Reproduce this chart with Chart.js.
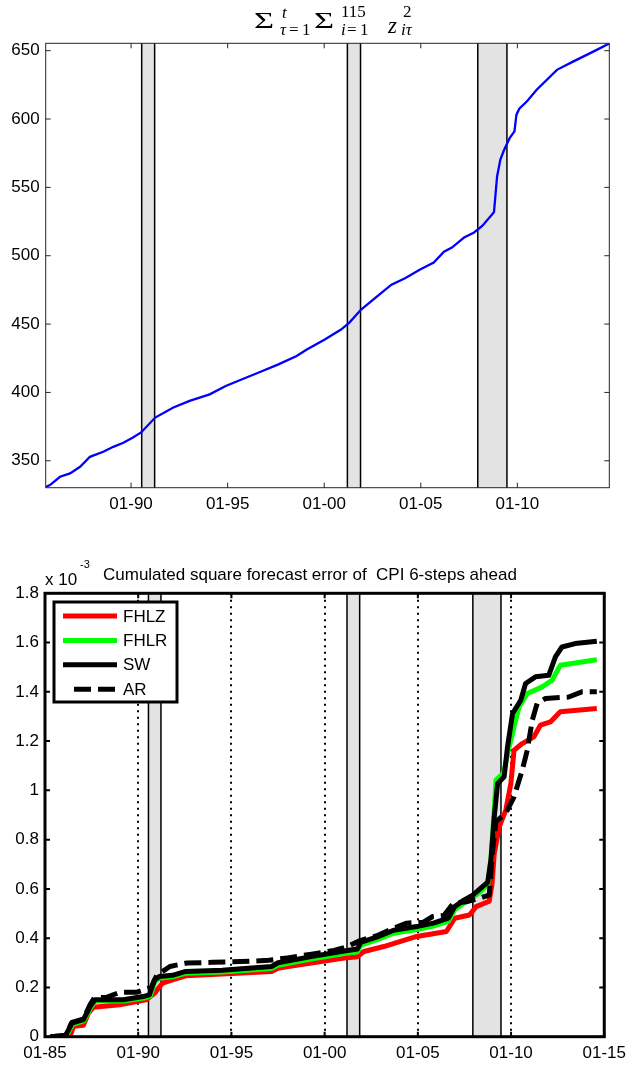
<!DOCTYPE html>
<html>
<head>
<meta charset="utf-8">
<script src="https://cdn.jsdelivr.net/npm/chart.js@4.4.1/dist/chart.umd.min.js"></script>
<style>
  body { margin: 0; background: #fff; }
  canvas { position: absolute; left: 0; }
  #topChart { top: 0; }
  #bottomChart { top: 530px; }
</style>
</head>
<body>
<canvas id="topChart" width="632" height="530"></canvas>
<canvas id="bottomChart" width="632" height="540"></canvas>
<script>
// recessions (decimal years)
var recStart = [1990.55, 2001.2, 2007.95];
var recEnd = [1991.22, 2001.88, 2009.46];

// top panel: cumulated sum of squared idiosyncratic components
var topTicksX = [1990, 1995, 2000, 2005, 2010];
var topTicksY = [350, 400, 450, 500, 550, 600, 650];
var zsq = [
  [1985.58, 330.8], [1985.8, 332.2], [1986.32, 338.3], [1986.84, 340.8], [1987.36, 345.6],
  [1987.87, 352.9], [1988.56, 356.6], [1989.08, 360.2], [1989.6, 363.2], [1990.1, 367],
  [1990.52, 370.7], [1991.25, 381.6], [1992.19, 389], [1993.03, 393.8], [1994.07, 398.6],
  [1994.9, 404.7], [1995.75, 409.6], [1996.58, 414.4], [1997.63, 420.5], [1998.57, 426.6],
  [1999.1, 431.4], [2000.03, 438.7], [2000.87, 446], [2001.29, 450.9], [2001.91, 460.6],
  [2002.85, 471.6], [2003.48, 478.8], [2004.21, 483.7], [2004.94, 489.8], [2005.67, 495],
  [2006.2, 503], [2006.61, 506], [2007.24, 513.3], [2007.76, 517], [2008.18, 521.8],
  [2008.7, 530.3], [2008.79, 532], [2008.87, 545], [2008.95, 558], [2009.12, 570.4],
  [2009.3, 577], [2009.6, 586], [2009.85, 591], [2009.95, 603], [2010.1, 607.5],
  [2010.5, 613], [2011.0, 621.4], [2012.05, 636], [2012.88, 642], [2013.93, 649.3],
  [2014.76, 655.3]
];

// bottom panel: cumulated square forecast error (x 10^-3)
var botTicksX = [1985, 1990, 1995, 2000, 2005, 2010, 2015];
var botTicksY = [0, 0.2, 0.4, 0.6, 0.8, 1, 1.2, 1.4, 1.6, 1.8];
var fhlz = [
  [1985.3, 0], [1986.35, 0.003], [1986.53, 0.042], [1987.06, 0.046], [1987.33, 0.096],
  [1987.6, 0.12], [1989.0, 0.13], [1990.43, 0.15], [1990.87, 0.176], [1991.31, 0.218],
  [1991.84, 0.231], [1992.55, 0.247], [1994.5, 0.255], [1997.15, 0.265], [1997.5, 0.278],
  [1998.04, 0.285], [2001.05, 0.319], [2001.76, 0.325], [2002.11, 0.346], [2003.17, 0.366],
  [2004.94, 0.407], [2006.53, 0.427], [2006.98, 0.481], [2007.77, 0.494], [2008.13, 0.528],
  [2008.83, 0.55], [2008.98, 0.62], [2009.1, 0.745], [2009.37, 0.853], [2009.72, 0.92],
  [2009.99, 1.028], [2010.16, 1.163], [2010.6, 1.19], [2011.22, 1.217], [2011.58, 1.265],
  [2012.11, 1.278], [2012.64, 1.319], [2014.6, 1.332]
];
var fhlr = [
  [1985.3, 0], [1986.15, 0.003], [1986.3, 0.025], [1986.48, 0.05], [1987.08, 0.064],
  [1987.45, 0.118], [1987.7, 0.145], [1989.2, 0.145], [1990.3, 0.157], [1990.65, 0.165],
  [1990.9, 0.225], [1991.15, 0.238], [1991.84, 0.243], [1992.55, 0.258], [1994.5, 0.263],
  [1997.15, 0.277], [1997.5, 0.29], [1999.28, 0.315], [2001.05, 0.338], [2001.76, 0.345],
  [2001.95, 0.372], [2002.82, 0.394], [2003.7, 0.42], [2004.94, 0.435], [2005.83, 0.449],
  [2006.63, 0.468], [2006.98, 0.515], [2007.42, 0.54], [2007.95, 0.565], [2008.3, 0.585],
  [2008.75, 0.62], [2008.92, 0.72], [2009.1, 0.92], [2009.19, 1.042], [2009.6, 1.07],
  [2009.85, 1.16], [2010.16, 1.258], [2010.43, 1.339], [2010.87, 1.393], [2011.67, 1.42],
  [2012.2, 1.447], [2012.64, 1.508], [2014.6, 1.53]
];
var sw = [
  [1985.3, 0], [1986.1, 0.005], [1986.26, 0.028], [1986.44, 0.055], [1987.06, 0.069],
  [1987.42, 0.123], [1987.68, 0.15], [1989.2, 0.15], [1990.25, 0.163], [1990.6, 0.17],
  [1990.87, 0.231], [1991.13, 0.244], [1991.84, 0.249], [1992.55, 0.265], [1994.5, 0.27],
  [1997.15, 0.285], [1997.5, 0.3], [1999.28, 0.325], [2001.05, 0.348], [2001.76, 0.356],
  [2001.93, 0.383], [2002.82, 0.405], [2003.7, 0.432], [2004.94, 0.447], [2005.83, 0.461],
  [2006.63, 0.481], [2006.98, 0.528], [2007.42, 0.552], [2007.95, 0.575], [2008.3, 0.598],
  [2008.75, 0.628], [2008.92, 0.717], [2009.1, 0.893], [2009.28, 1.028], [2009.63, 1.055],
  [2009.81, 1.177], [2010.08, 1.312], [2010.52, 1.366], [2010.78, 1.434], [2011.31, 1.461],
  [2012.02, 1.467], [2012.38, 1.542], [2012.73, 1.582], [2013.44, 1.596], [2014.6, 1.605]
];
var ar = [
  [1985.3, 0], [1986.1, 0.005], [1986.26, 0.03], [1986.44, 0.058], [1987.06, 0.072],
  [1987.42, 0.13], [1987.65, 0.158], [1988.3, 0.16], [1989.0, 0.18], [1989.9, 0.18],
  [1990.3, 0.19], [1990.7, 0.2], [1991.0, 0.25], [1991.7, 0.285], [1992.6, 0.299],
  [1994.0, 0.302], [1995.5, 0.305], [1997.0, 0.31], [1998.0, 0.32], [1999.3, 0.335],
  [2000.5, 0.35], [2001.2, 0.365], [2001.9, 0.39], [2002.8, 0.41], [2003.7, 0.44],
  [2004.4, 0.461], [2005.3, 0.465], [2005.8, 0.488], [2006.4, 0.492], [2006.9, 0.542],
  [2007.6, 0.548], [2008.3, 0.562], [2008.83, 0.575], [2009.0, 0.75], [2009.19, 0.873],
  [2009.72, 0.907], [2010.16, 0.974], [2010.6, 1.082], [2010.87, 1.163], [2011.14, 1.285],
  [2011.4, 1.353], [2011.85, 1.373], [2013.09, 1.379], [2013.8, 1.4], [2014.6, 1.4]
];

Chart.defaults.font.family = "'Liberation Sans', Arial, sans-serif";
Chart.defaults.font.size = 17;
Chart.defaults.color = "#000";

function toXY(arr) {
  return arr.map(function (p) { return { x: p[0], y: p[1] }; });
}
function yearLabel(v) {
  return "01-" + String(v).slice(2);
}

// grey recession bands with black edges
var recessionBands = {
  id: "recessionBands",
  beforeDatasetsDraw: function (chart) {
    var ctx = chart.ctx, a = chart.chartArea, x = chart.scales.x;
    ctx.save();
    recStart.forEach(function (s, i) {
      var x1 = x.getPixelForValue(s), x2 = x.getPixelForValue(recEnd[i]);
      ctx.fillStyle = "#e3e3e3";
      ctx.fillRect(x1, a.top, x2 - x1, a.bottom - a.top);
      ctx.strokeStyle = "#000";
      ctx.lineWidth = 1.5;
      ctx.beginPath();
      ctx.moveTo(x1, a.top); ctx.lineTo(x1, a.bottom);
      ctx.moveTo(x2, a.top); ctx.lineTo(x2, a.bottom);
      ctx.stroke();
    });
    ctx.restore();
  }
};

// matlab style box with inward ticks
var boxTicks = {
  id: "boxTicks",
  afterDraw: function (chart, args, o) {
    var ctx = chart.ctx, a = chart.chartArea, x = chart.scales.x, y = chart.scales.y;
    ctx.save();
    ctx.strokeStyle = o.color;
    ctx.lineWidth = o.tickWidth;
    ctx.beginPath();
    x.ticks.forEach(function (t) {
      var px = x.getPixelForValue(t.value);
      ctx.moveTo(px, a.bottom); ctx.lineTo(px, a.bottom - o.len);
      ctx.moveTo(px, a.top); ctx.lineTo(px, a.top + o.len);
    });
    y.ticks.forEach(function (t) {
      var py = y.getPixelForValue(t.value);
      ctx.moveTo(a.left, py); ctx.lineTo(a.left + o.len, py);
      ctx.moveTo(a.right, py); ctx.lineTo(a.right - o.len, py);
    });
    ctx.stroke();
    ctx.lineWidth = o.width;
    ctx.strokeRect(a.left, a.top, a.right - a.left, a.bottom - a.top);
    ctx.restore();
  }
};

// tex-like title of the top panel
var texTitle = {
  id: "texTitle",
  afterDraw: function (chart) {
    var ctx = chart.ctx;
    var serif = "'Liberation Serif', 'DejaVu Serif', serif";
    // text, x, baseline, font, horizontal stretch
    var parts = [
      ["\u03A3", 254, 28, "23px", 1.5], ["t", 282, 18, "italic 17px", 1],
      ["\u03C4", 280, 35, "italic 17px", 1], ["=", 289, 35, "17px", 1], ["1", 302, 35, "17px", 1],
      ["\u03A3", 314, 28, "23px", 1.5], ["115", 341, 17, "17px", 1],
      ["i", 341, 35, "italic 17px", 1], ["=", 347, 35, "17px", 1], ["1", 360, 35, "17px", 1],
      ["z", 388, 33, "italic 23px", 1], ["2", 403, 17, "17px", 1], ["i\u03C4", 401, 35, "italic 17px", 1]
    ];
    ctx.save();
    ctx.fillStyle = "#000";
    ctx.textBaseline = "alphabetic";
    parts.forEach(function (p) {
      ctx.save();
      ctx.font = p[3] + " " + serif;
      ctx.translate(p[1], p[2]);
      ctx.scale(p[4], 1);
      ctx.fillText(p[0], 0, 0);
      ctx.restore();
    });
    ctx.restore();
  }
};

// title, exponent and boxed legend of the bottom panel
var botDecor = {
  id: "botDecor",
  afterDraw: function (chart) {
    var ctx = chart.ctx;
    ctx.save();
    ctx.fillStyle = "#000";
    ctx.textBaseline = "alphabetic";
    ctx.font = "17px 'Liberation Sans', Arial, sans-serif";
    ctx.fillText("Cumulated square forecast error of  CPI 6-steps ahead", 103, 50);
    ctx.fillText("x 10", 45, 55);
    ctx.font = "11px 'Liberation Sans', Arial, sans-serif";
    ctx.fillText("-3", 80, 38);

    var bx = 54, by = 72, bw = 123, bh = 100;
    ctx.fillStyle = "#fff";
    ctx.fillRect(bx, by, bw, bh);
    ctx.strokeStyle = "#000";
    ctx.lineWidth = 3;
    ctx.strokeRect(bx, by, bw, bh);
    ctx.font = "17px 'Liberation Sans', Arial, sans-serif";
    ctx.textBaseline = "middle";
    chart.data.datasets.forEach(function (ds, i) {
      var cy = by + 14 + i * 24.4;
      var dash = ds.borderDash || [];
      ctx.strokeStyle = ds.borderColor;
      ctx.lineWidth = 5;
      ctx.setLineDash(dash);
      ctx.beginPath();
      ctx.moveTo(dash.length ? 74 : 63, cy);
      ctx.lineTo(117, cy);
      ctx.stroke();
      ctx.setLineDash([]);
      ctx.fillStyle = "#000";
      ctx.fillText(ds.label, 123, cy + 1);
    });
    ctx.restore();
  }
};

new Chart(document.getElementById("topChart"), {
  type: "line",
  data: {
    datasets: [{
      data: toXY(zsq),
      borderColor: "#0000ff",
      borderWidth: 2.3,
      pointRadius: 0,
      tension: 0
    }]
  },
  options: {
    responsive: false,
    animation: false,
    layout: { padding: { top: 43.3, right: 22.7, left: 0, bottom: 0 } },
    plugins: {
      legend: { display: false },
      tooltip: { enabled: false },
      boxTicks: { color: "#262626", width: 1, tickWidth: 1, len: 5 }
    },
    scales: {
      x: {
        type: "linear",
        min: 1985.58,
        max: 2014.76,
        grid: { display: false, drawTicks: false },
        border: { display: false },
        ticks: { padding: 6, maxRotation: 0, autoSkip: false, callback: yearLabel },
        afterBuildTicks: function (s) { s.ticks = topTicksX.map(function (v) { return { value: v }; }); },
        afterFit: function (s) { s.height = 42.3; }
      },
      y: {
        min: 330.3,
        max: 655.4,
        grid: { display: false, drawTicks: false },
        border: { display: false },
        ticks: { padding: 6 },
        afterBuildTicks: function (s) { s.ticks = topTicksY.map(function (v) { return { value: v }; }); },
        afterFit: function (s) { s.width = 45.7; }
      }
    }
  },
  plugins: [recessionBands, boxTicks, texTitle]
});

new Chart(document.getElementById("bottomChart"), {
  type: "line",
  data: {
    datasets: [
      { label: "FHLZ", data: toXY(fhlz), borderColor: "#ff0000", borderWidth: 5, order: 3 },
      { label: "FHLR", data: toXY(fhlr), borderColor: "#00ff00", borderWidth: 5, order: 2 },
      { label: "SW", data: toXY(sw), borderColor: "#000000", borderWidth: 5, order: 1 },
      { label: "AR", data: toXY(ar), borderColor: "#000000", borderWidth: 5, borderDash: [17, 7], order: 0 }
    ]
  },
  options: {
    responsive: false,
    animation: false,
    elements: {
      point: { radius: 0 },
      line: { tension: 0, borderJoinStyle: "round", borderCapStyle: "butt" }
    },
    layout: { padding: { top: 63.3, right: 22, left: 0, bottom: 0 } },
    plugins: {
      legend: { display: false },
      tooltip: { enabled: false },
      boxTicks: { color: "#000", width: 3, tickWidth: 2, len: 5 }
    },
    scales: {
      x: {
        type: "linear",
        min: 1985,
        max: 2015,
        grid: {
          drawTicks: false,
          lineWidth: 2,
          color: function (c) {
            var v = c.tick && c.tick.value;
            return v === 1985 || v === 2015 ? "rgba(0,0,0,0)" : "#000";
          }
        },
        border: { display: false, dash: [2, 4.5] },
        ticks: { padding: 6, maxRotation: 0, autoSkip: false, callback: yearLabel },
        afterBuildTicks: function (s) { s.ticks = botTicksX.map(function (v) { return { value: v }; }); },
        afterFit: function (s) { s.height = 33.3; }
      },
      y: {
        min: 0,
        max: 1.8,
        grid: { display: false, drawTicks: false },
        border: { display: false },
        ticks: { padding: 6, callback: function (v) { return String(+v.toFixed(1)); } },
        afterBuildTicks: function (s) { s.ticks = botTicksY.map(function (v) { return { value: v }; }); },
        afterFit: function (s) { s.width = 45; }
      }
    }
  },
  plugins: [recessionBands, boxTicks, botDecor]
});
</script>
</body>
</html>
